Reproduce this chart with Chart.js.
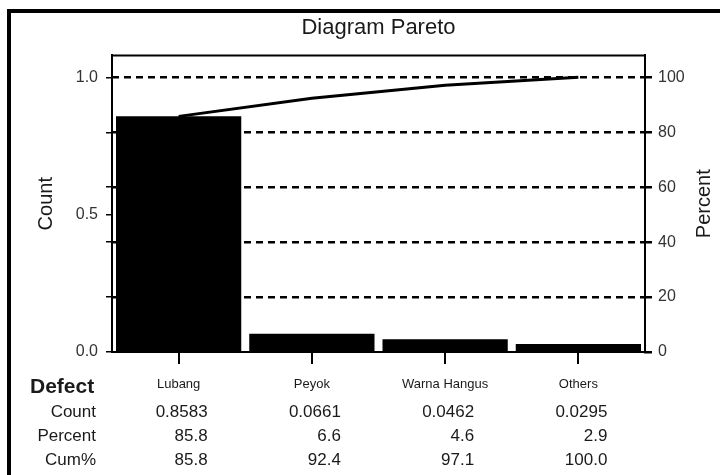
<!DOCTYPE html>
<html>
<head>
<meta charset="utf-8">
<script src="https://cdn.jsdelivr.net/npm/chart.js@4"></script>
<style>
  body { margin: 0; background: #fff; }
  #frame { position: absolute; left: 7px; top: 9px; width: 760px; height: 500px; border: 4px solid #000; }
  #wrap { position: absolute; left: 0; top: 0; width: 720px; height: 475px; }
</style>
</head>
<body>
<div id="frame"></div>
<div id="wrap"><canvas id="pareto" width="720" height="475"></canvas></div>
<script>
const categories = ["Lubang", "Peyok", "Warna Hangus", "Others"];
const counts = [0.8583, 0.0661, 0.0462, 0.0295];
const percents = [85.8, 6.6, 4.6, 2.9];
const cumPercents = [85.8, 92.4, 97.1, 100.0];
const countTicks = [0, 0.2, 0.4, 0.5, 0.6, 0.8, 1.0];
const countLabels = [0, 0.5, 1.0];
const percentTicks = [0, 20, 40, 60, 80, 100];
const rowNames = ["Count", "Percent", "Cum%"];

const FONT = "'Liberation Sans', Arial, sans-serif";
const INK = "#1a1a1a";

// top edge of the plot box, right axis title (reads upward) and the table under the axis
const paretoExtras = {
	id: "paretoExtras",
	afterDatasetsDraw(chart) {
		const { ctx, chartArea: a } = chart;
		ctx.save();
		ctx.strokeStyle = "#000";
		ctx.lineWidth = 2;
		ctx.beginPath();
		ctx.moveTo(a.left, a.top);
		ctx.lineTo(a.right, a.top);
		ctx.stroke();
		ctx.restore();
	},
	afterDraw(chart) {
		const { ctx, chartArea: a } = chart;
		const x = chart.scales.x;
		const rows = [counts.map((v) => v.toFixed(4)), percents.map((v) => v.toFixed(1)), cumPercents.map((v) => v.toFixed(1))];
		ctx.save();
		ctx.fillStyle = INK;
		ctx.textBaseline = "middle";

		ctx.save();
		ctx.translate(704, (a.top + a.bottom) / 2);
		ctx.rotate(-Math.PI / 2);
		ctx.textAlign = "center";
		ctx.font = "20px " + FONT;
		ctx.fillText("Percent", 0, 0);
		ctx.restore();

		ctx.font = "bold 21px " + FONT;
		ctx.textAlign = "left";
		ctx.fillText("Defect", 30, 387);
		ctx.font = "17px " + FONT;
		ctx.textAlign = "right";
		rowNames.forEach((name, r) => {
			const y = 412 + r * 24;
			ctx.fillText(name, 96, y);
			rows[r].forEach((txt, i) => {
				ctx.fillText(txt, x.getPixelForValue(i) + 29, y);
			});
		});
		ctx.restore();
	},
};

new Chart(document.getElementById("pareto"), {
	data: {
		labels: categories,
		datasets: [
			{
				type: "line",
				data: cumPercents,
				yAxisID: "yP",
				borderColor: "#000",
				borderWidth: 3,
				pointRadius: 0,
				tension: 0,
				order: 0,
			},
			{
				type: "bar",
				data: counts,
				yAxisID: "y",
				backgroundColor: "#000",
				borderWidth: 0,
				barPercentage: 0.94,
				categoryPercentage: 1,
				order: 1,
			},
		],
	},
	options: {
		responsive: false,
		animation: false,
		layout: { padding: { top: 8, left: 30, right: 2, bottom: 0 } },
		plugins: {
			legend: { display: false },
			tooltip: { enabled: false },
			title: {
				display: true,
				text: "Diagram Pareto",
				fullSize: false,
				color: INK,
				font: { family: FONT, size: 22, weight: "normal" },
				padding: { top: 7, bottom: 14 },
			},
		},
		scales: {
			x: {
				offset: true,
				border: { color: "#000", width: 2 },
				grid: { drawOnChartArea: false, offset: false, tickLength: 12, color: "#000", lineWidth: 2 },
				ticks: { color: INK, font: { family: FONT, size: 13 }, padding: 13, maxRotation: 0 },
				afterFit: (s) => { s.height = 123; },
			},
			y: {
				position: "left",
				min: 0,
				max: 1.08,
				border: { color: "#000", width: 2 },
				grid: { drawOnChartArea: false, tickLength: 6, color: "#000", lineWidth: 1.5 },
				afterBuildTicks: (s) => { s.ticks = countTicks.map((v) => ({ value: v })); },
				ticks: {
					color: "#333",
					font: { family: FONT, size: 16 },
					padding: 8,
					callback: (v) => (countLabels.includes(v) ? v.toFixed(1) : ""),
				},
				title: { display: true, text: "Count", color: INK, font: { family: FONT, size: 20 }, padding: 4 },
				afterFit: (s) => { s.width = 82; },
			},
			yP: {
				position: "right",
				min: 0,
				max: 108,
				border: { color: "#000", width: 2, dash: [7, 5] },
				grid: {
					drawOnChartArea: true,
					tickLength: 7,
					color: (c) => (c.tick && c.tick.value === 0 ? "rgba(0,0,0,0)" : "#000"),
					tickColor: "#000",
					lineWidth: 2.5,
				},
				afterBuildTicks: (s) => { s.ticks = percentTicks.map((v) => ({ value: v })); },
				ticks: { color: "#333", font: { family: FONT, size: 16 }, padding: 6 },
				afterFit: (s) => { s.width = 73; },
			},
		},
	},
	plugins: [paretoExtras],
});
</script>
</body>
</html>
